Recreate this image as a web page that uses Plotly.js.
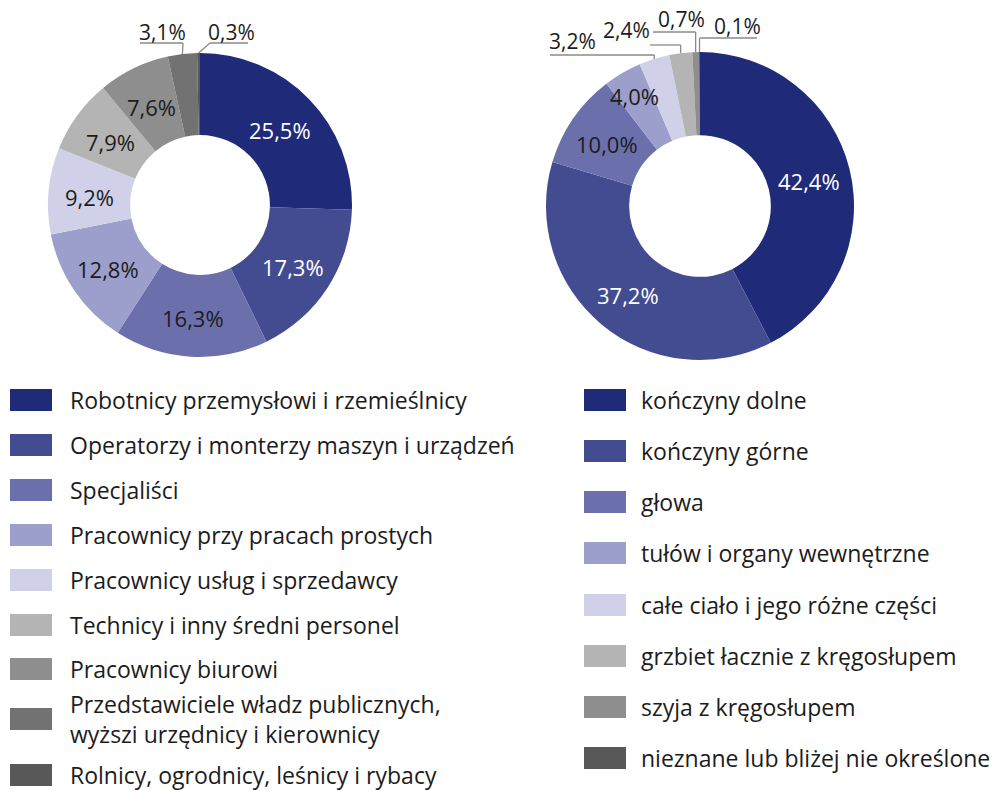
<!DOCTYPE html>
<html><head><meta charset="utf-8">
<script src="https://cdn.plot.ly/plotly-3.0.1.min.js"></script>
<style>html,body{margin:0;padding:0;background:#fff}#chart{width:995px;height:791px}</style>
</head><body><div id="chart"></div>
<script>
// ---- data ----
const occLabels = ['Robotnicy przemysłowi i rzemieślnicy','Operatorzy i monterzy maszyn i urządzeń','Specjaliści','Pracownicy przy pracach prostych','Pracownicy usług i sprzedawcy','Technicy i inny średni personel','Pracownicy biurowi','Przedstawiciele władz publicznych,<br>wyższi urzędnicy i kierownicy','Rolnicy, ogrodnicy, leśnicy i rybacy'];
const occValues = [25.5,17.3,16.3,12.8,9.2,7.9,7.6,3.1,0.3];
const bodyLabels = ['kończyny dolne','kończyny górne','głowa','tułów i organy wewnętrzne','całe ciało i jego różne części','grzbiet łacznie z kręgosłupem','szyja z kręgosłupem','nieznane lub bliżej nie określone'];
const bodyValues = [42.4,37.2,10.0,4.0,3.2,2.4,0.7,0.1];

// ---- styles ----
const occColors = ['#1f2b78','#444c91','#6b70ac','#9c9fcb','#d0d1e8','#b4b4b4','#8e8e8e','#727272','#585858'];
const bodyColors = ['#1f2b78','#444c91','#6b70ac','#9c9fcb','#d0d1e8','#b4b4b4','#8e8e8e','#585858'];
const FONT = 'Open Sans, Noto Sans, sans-serif';
const TXT = '#1c1c1c';
const fmt = v => v.toFixed(1).replace('.', ',') + '%';

const W = 995, H = 791, HOLE = 0.46;
const pies = [
  {cx:200, cy:205, r:152, values:occValues, colors:occColors, labels:occLabels, nInside:7, rLab:[0.73,0.73,0.73,0.73,0.73,0.73,0.73]},
  {cx:700, cy:206, r:154, values:bodyValues, colors:bodyColors, labels:bodyLabels, nInside:4, rLab:[0.73,0.73,0.73,0.84]}
];

const traces = pies.map(p => ({
  type:'pie', values:p.values, labels:p.labels, sort:false, direction:'clockwise', rotation:0,
  hole:HOLE,
  domain:{x:[(p.cx-p.r)/W,(p.cx+p.r)/W], y:[1-(p.cy+p.r)/H, 1-(p.cy-p.r)/H]},
  marker:{colors:p.colors, line:{width:0}},
  textinfo:'none', hoverinfo:'label+value', showlegend:false
}));

function angleOf(p, i){
  const tot = p.values.reduce((a,b)=>a+b,0);
  let cum = 0; for(let j=0;j<i;j++) cum += p.values[j];
  return (cum + p.values[i]/2)/tot*2*Math.PI;
}
function pointAt(p, i, rf){
  const a = angleOf(p,i);
  return [p.cx + p.r*rf*Math.sin(a), p.cy - p.r*rf*Math.cos(a)];
}

const shapes = [], annotations = [];
const lineStyle = {color:'#8a8a8a', width:1.3};
function seg(x0,y0,x1,y1){ shapes.push({type:'line', xref:'x', yref:'y', x0, y0, x1, y1, line:lineStyle}); }
function lab(text,x,y,size,color,xanchor){ annotations.push({xref:'x', yref:'y', x, y, text, showarrow:false, xanchor:xanchor||'center', yanchor:'middle', align:'left', font:{family:FONT, size:size, color:color||TXT}}); }

// inside labels at slice mid-angle
pies.forEach(p=>{
  for(let i=0;i<p.nInside;i++){
    const pt = pointAt(p,i,p.rLab[i]);
    lab(fmt(p.values[i]), pt[0], pt[1]+2, 22, i<2 ? '#ffffff' : TXT);
  }
});

// outside labels: left pie
{
  const p = pies[0];
  let e = pointAt(p,7,1); lab(fmt(p.values[7]),162,32,21); seg(140,43,183,43); seg(183,43,e[0],e[1]);
  e = pointAt(p,8,1); lab(fmt(p.values[8]),231,32,21); seg(210,43,248,43); seg(210,43,e[0],e[1]);
}
// outside labels: right pie
{
  const p = pies[1];
  let e = pointAt(p,4,1); lab(fmt(p.values[4]),572,41,21); seg(550,55,e[0],55); seg(e[0],55,e[0],e[1]);
  e = pointAt(p,5,1); lab(fmt(p.values[5]),626,30,21); seg(650,45,e[0],45); seg(e[0],45,e[0],e[1]);
  e = pointAt(p,6,1); lab(fmt(p.values[6]),681,19,21); seg(653,32,e[0],32); seg(e[0],32,e[0],e[1]);
  e = pointAt(p,7,1); lab(fmt(p.values[7]),737,26,21); seg(e[0],38,757,38); seg(e[0],38,e[0],e[1]);
}

// legends (positions in pixels)
const legLeftY = [400,445,490,535,580,625,669,719,775];
const legRightY = [400,451,502,553,605,656,707,758];
function legend(labels, colors, ys, sx, tx){
  labels.forEach((t,i)=>{
    shapes.push({type:'rect', xref:'x', yref:'y', x0:sx, x1:sx+42, y0:ys[i]-11, y1:ys[i]+11, fillcolor:colors[i], line:{width:0}});
    lab(t, tx, ys[i], 23, TXT, 'left');
  });
}
legend(occLabels, occColors, legLeftY, 10, 68);
legend(bodyLabels, bodyColors, legRightY, 584, 639);

const layout = {
  width:W, height:H, margin:{l:0,r:0,t:0,b:0}, paper_bgcolor:'#fff', plot_bgcolor:'rgba(0,0,0,0)',
  showlegend:false,
  xaxis:{range:[0,W], visible:false, fixedrange:true},
  yaxis:{range:[H,0], visible:false, fixedrange:true},
  shapes, annotations, font:{family:FONT}
};
Plotly.newPlot('chart', traces, layout, {displayModeBar:false, staticPlot:true});
</script></body></html>
